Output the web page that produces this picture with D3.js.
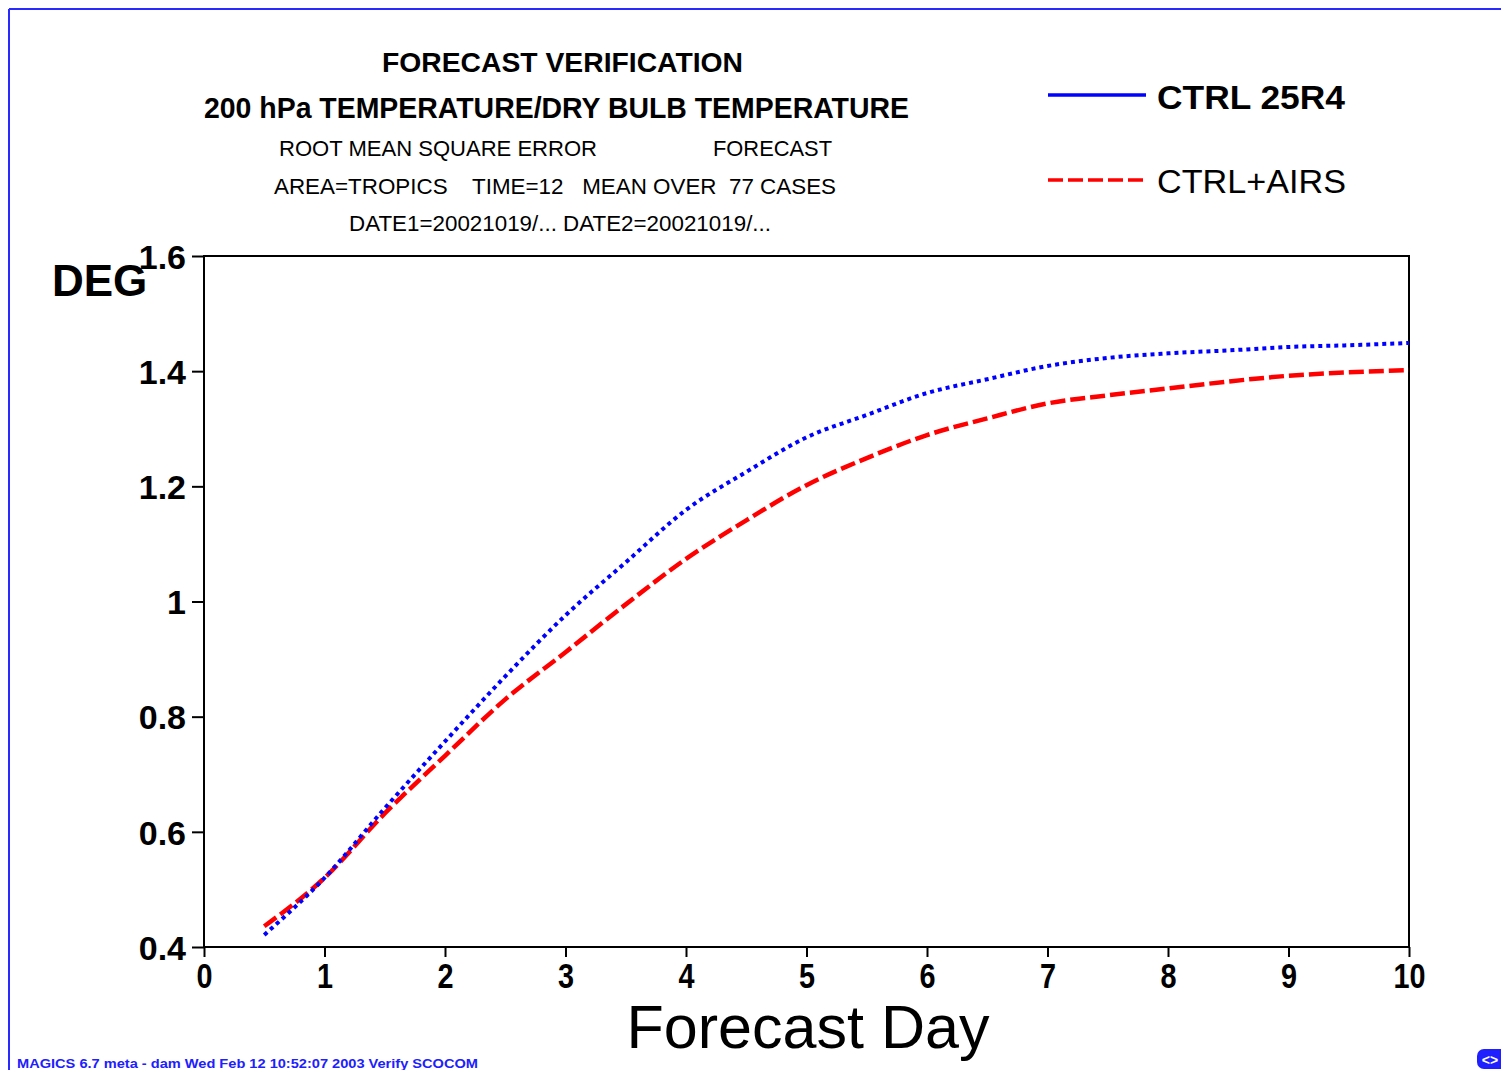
<!DOCTYPE html>
<html>
<head>
<meta charset="utf-8">
<script src="https://cdn.jsdelivr.net/npm/d3@7"></script>
<style>
  html, body { margin: 0; padding: 0; background: #fff; }
  svg { display: block; }
  text { font-family: "Liberation Sans", Arial, sans-serif; fill: #000; }
</style>
</head>
<body>
<svg id="chart" width="1501" height="1070"></svg>
<script>
// ---- data ----
const forecastDays = [0.5, 1, 1.5, 2, 2.5, 3, 3.5, 4, 4.5, 5, 5.5, 6, 6.5, 7, 7.5, 8, 8.5, 9, 9.5, 10];
const ctrl25R4 = [0.421, 0.52, 0.641, 0.757, 0.870, 0.976, 1.068, 1.159, 1.225, 1.285, 1.324, 1.362, 1.386, 1.409, 1.423, 1.431, 1.436, 1.442, 1.445, 1.449];
const ctrlAirs = [0.436, 0.52, 0.632, 0.732, 0.830, 0.912, 0.995, 1.074, 1.141, 1.202, 1.249, 1.289, 1.318, 1.344, 1.358, 1.370, 1.382, 1.392, 1.398, 1.402];
const seriesNames = ["CTRL 25R4", "CTRL+AIRS"];
const xTicks = [0, 1, 2, 3, 4, 5, 6, 7, 8, 9, 10];
const yTicks = [0.4, 0.6, 0.8, 1.0, 1.2, 1.4, 1.6];
const titleLines = [
  "FORECAST VERIFICATION",
  "200 hPa TEMPERATURE/DRY BULB TEMPERATURE",
  "ROOT MEAN SQUARE ERROR",
  "FORECAST",
  "AREA=TROPICS    TIME=12   MEAN OVER  77 CASES",
  "DATE1=20021019/... DATE2=20021019/..."
];
const footerText = "MAGICS 6.7 meta - dam Wed Feb 12 10:52:07 2003 Verify SCOCOM";

// ---- layout ----
const svg = d3.select("#chart");
const x = d3.scaleLinear().domain([0, 10]).range([204, 1409]);
const y = d3.scaleLinear().domain([0.4, 1.6]).range([947, 256]);

// page border (blue, top and left)
svg.append("line").attr("x1", 9).attr("y1", 9).attr("x2", 1501).attr("y2", 9)
  .attr("stroke", "#2a2aff").attr("stroke-width", 2);
svg.append("line").attr("x1", 9).attr("y1", 9).attr("x2", 9).attr("y2", 1070)
  .attr("stroke", "#2a2aff").attr("stroke-width", 2);

// titles (condensed via textLength)
const titleSpecs = [
  { t: titleLines[0], x1: 382, x2: 743, base: 72, size: 28, w: "bold" },
  { t: titleLines[1], x1: 204, x2: 909, base: 118, size: 29, w: "bold" },
  { t: titleLines[2], x1: 279, x2: 597, base: 156, size: 22, w: "normal" },
  { t: titleLines[3], x1: 713, x2: 832, base: 156, size: 22, w: "normal" },
  { t: titleLines[4], x1: 274, x2: 836, base: 194, size: 22, w: "normal" },
  { t: titleLines[5], x1: 349, x2: 771, base: 231, size: 22, w: "normal" }
];
titleSpecs.forEach(s => {
  svg.append("text")
    .attr("x", s.x1).attr("y", s.base)
    .attr("font-size", s.size).attr("font-weight", s.w)
    .attr("textLength", s.x2 - s.x1).attr("lengthAdjust", "spacingAndGlyphs")
    .style("white-space", "pre")
    .text(s.t);
});

// plot frame
svg.append("rect").attr("x", x(0)).attr("y", y(1.6))
  .attr("width", x(10) - x(0)).attr("height", y(0.4) - y(1.6))
  .attr("fill", "none").attr("stroke", "#000").attr("stroke-width", 2);

// y axis
const yAxis = d3.axisLeft(y).tickValues(yTicks).tickSize(12).tickPadding(6)
  .tickFormat(d => String(+d.toFixed(1)));
const gy = svg.append("g").attr("transform", `translate(${x(0)},0)`).call(yAxis);
gy.select(".domain").remove();
gy.selectAll(".tick line").attr("stroke", "#000").attr("stroke-width", 2);
gy.selectAll(".tick text")
  .attr("font-family", "'Liberation Sans', Arial, sans-serif")
  .attr("font-size", 34).attr("font-weight", "bold").attr("fill", "#000")
  .attr("dy", "0.36em");

// x axis
const xAxis = d3.axisBottom(x).tickValues(xTicks).tickSize(10).tickPadding(4)
  .tickFormat(d3.format("d"));
const gx = svg.append("g").attr("transform", `translate(0,${y(0.4)})`).call(xAxis);
gx.select(".domain").remove();
gx.selectAll(".tick line").attr("stroke", "#000").attr("stroke-width", 2);
gx.selectAll(".tick text")
  .attr("font-family", "'Liberation Sans', Arial, sans-serif")
  .attr("font-size", 36).attr("font-weight", "bold").attr("fill", "#000")
  .attr("transform", "scale(0.8,1)")
  .attr("x", function() { return 0; })
  .attr("dy", "0.75em");

// axis titles
svg.append("text").attr("x", 52).attr("y", 296)
  .attr("font-size", 44).attr("font-weight", "bold").text("DEG");
svg.append("text").attr("x", 808).attr("y", 1048)
  .attr("text-anchor", "middle")
  .attr("font-size", 62)
  .attr("textLength", 363).attr("lengthAdjust", "spacingAndGlyphs")
  .text("Forecast Day");

// lines
const line = d3.line().x(d => x(d[0])).y(d => y(d[1])).curve(d3.curveMonotoneX);
const blueData = forecastDays.map((d, i) => [d, ctrl25R4[i]]);
const redData = forecastDays.map((d, i) => [d, ctrlAirs[i]]);

svg.append("path").datum(redData).attr("d", line)
  .attr("fill", "none").attr("stroke", "#ff0000").attr("stroke-width", 4.5)
  .attr("stroke-dasharray", "15,5");
svg.append("path").datum(blueData).attr("d", line)
  .attr("fill", "none").attr("stroke", "#0000ff").attr("stroke-width", 4)
  .attr("stroke-dasharray", "4,4");

// legend
svg.append("line").attr("x1", 1048).attr("x2", 1146).attr("y1", 95).attr("y2", 95)
  .attr("stroke", "#0000ff").attr("stroke-width", 3.5);
svg.append("text").attr("x", 1157).attr("y", 109)
  .attr("font-size", 34).attr("font-weight", "bold")
  .attr("textLength", 188).attr("lengthAdjust", "spacingAndGlyphs")
  .text(seriesNames[0]);
svg.append("line").attr("x1", 1048).attr("x2", 1146).attr("y1", 180).attr("y2", 180)
  .attr("stroke", "#ff0000").attr("stroke-width", 3.5).attr("stroke-dasharray", "15,5");
svg.append("text").attr("x", 1157).attr("y", 193)
  .attr("font-size", 34)
  .attr("textLength", 189).attr("lengthAdjust", "spacingAndGlyphs")
  .text(seriesNames[1]);

// footer
svg.append("text").attr("x", 17).attr("y", 1068)
  .attr("font-size", 13).attr("font-weight", "bold").style("fill", "#2020ff")
  .attr("textLength", 461).attr("lengthAdjust", "spacingAndGlyphs")
  .text(footerText);

// bottom-right logo
svg.append("rect").attr("x", 1477).attr("y", 1049).attr("width", 30).attr("height", 20)
  .attr("rx", 7).attr("fill", "#2020ff");
svg.append("text").attr("x", 1490).attr("y", 1065).attr("text-anchor", "middle")
  .attr("font-size", 14).attr("font-weight", "bold").style("fill", "#fff").text("<>");
</script>
</body>
</html>
